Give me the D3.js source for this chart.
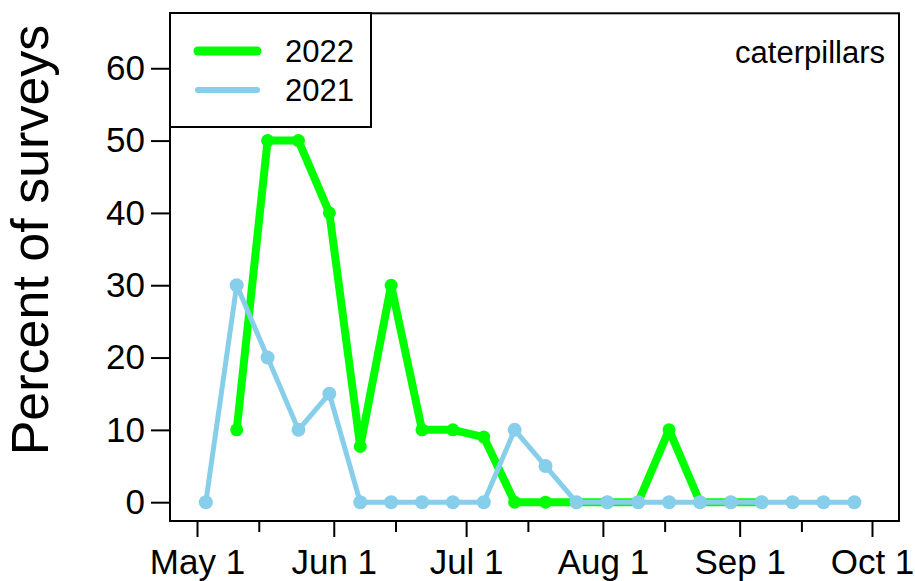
<!DOCTYPE html>
<html>
<head>
<meta charset="utf-8">
<script src="https://cdn.jsdelivr.net/npm/d3@7"></script>
<style>
  html, body { margin: 0; padding: 0; background: #fff; }
  svg { display: block; font-family: "Liberation Sans", Arial, Helvetica, sans-serif; }
</style>
</head>
<body>
<svg id="chart" width="915" height="581"></svg>
<script>
// ---- data ----
const dates2021 = ["2021-05-03","2021-05-10","2021-05-17","2021-05-24","2021-05-31","2021-06-07","2021-06-14","2021-06-21","2021-06-28","2021-07-05","2021-07-12","2021-07-19","2021-07-26","2021-08-02","2021-08-09","2021-08-16","2021-08-23","2021-08-30","2021-09-06","2021-09-13","2021-09-20","2021-09-27"];
const values2021 = [0, 30, 20, 10, 15, 0, 0, 0, 0, 0, 10, 5, 0, 0, 0, 0, 0, 0, 0, 0, 0, 0];
const dates2022 = ["2021-05-10","2021-05-17","2021-05-24","2021-05-31","2021-06-07","2021-06-14","2021-06-21","2021-06-28","2021-07-05","2021-07-12","2021-07-19","2021-07-26","2021-08-02","2021-08-09","2021-08-16","2021-08-23","2021-08-30","2021-09-06"];
const values2022 = [10, 50, 50, 40, 7.7, 30, 10, 10, 9, 0, 0, 0, 0, 0, 10, 0, 0, 0];
const majorTickDates = ["2021-05-01","2021-06-01","2021-07-01","2021-08-01","2021-09-01","2021-10-01"];
const majorTickLabels = ["May 1","Jun 1","Jul 1","Aug 1","Sep 1","Oct 1"];
const minorTickDates = ["2021-05-15","2021-06-15","2021-07-15","2021-08-15","2021-09-15"];
const yTicks = [0, 10, 20, 30, 40, 50, 60];
const seriesNames = ["2022", "2021"];
const seriesColors = ["#00ff00", "#87ceeb"];
const panelLabel = "caterpillars";
const yLabel = "Percent of surveys";

// ---- layout ----
const parse = d3.utcParse("%Y-%m-%d");
const box = {left: 170, right: 899, top: 13.3, bottom: 521};
const xMin = parse("2021-05-01"), xMax = parse("2021-10-01");
const span = xMax - xMin;
const x = d3.scaleUtc()
  .domain([new Date(+xMin - 0.04 * span), new Date(+xMax + 0.04 * span)])
  .range([box.left, box.right]);
const yLo = 0, yHi = 65, ySpan = yHi - yLo;
const y = d3.scaleLinear()
  .domain([yLo - 0.04 * ySpan, yHi + 0.04 * ySpan])
  .range([box.bottom, box.top]);

const svg = d3.select("#chart");

// bottom axis (major)
const gx = svg.append("g").attr("transform", `translate(0,${box.bottom})`)
  .call(d3.axisBottom(x).tickValues(majorTickDates.map(parse))
    .tickFormat((d, i) => majorTickLabels[i]).tickSize(16).tickSizeOuter(0));
gx.select(".domain").remove();
gx.selectAll(".tick line").attr("stroke", "#000").attr("stroke-width", 2);
gx.selectAll(".tick text").attr("font-size", 35).attr("fill", "#000")
  .attr("font-family", "Liberation Sans, Arial, sans-serif").attr("dy", 0).attr("y", 53);

// minor ticks
const gxm = svg.append("g").attr("transform", `translate(0,${box.bottom})`)
  .call(d3.axisBottom(x).tickValues(minorTickDates.map(parse)).tickFormat("").tickSize(11).tickSizeOuter(0));
gxm.select(".domain").remove();
gxm.selectAll(".tick line").attr("stroke", "#000").attr("stroke-width", 2);

// left axis
const gy = svg.append("g").attr("transform", `translate(${box.left},0)`)
  .call(d3.axisLeft(y).tickValues(yTicks).tickSize(19).tickSizeOuter(0));
gy.select(".domain").remove();
gy.selectAll(".tick line").attr("stroke", "#000").attr("stroke-width", 2);
gy.selectAll(".tick text").attr("font-size", 35).attr("fill", "#000")
  .attr("font-family", "Liberation Sans, Arial, sans-serif").attr("x", -25);

// y label
svg.append("text")
  .attr("transform", `translate(48,240) rotate(-90)`)
  .attr("text-anchor", "middle").attr("font-size", 52).attr("fill", "#000")
  .text(yLabel);

// plot frame
svg.append("rect").attr("x", box.left).attr("y", box.top)
  .attr("width", box.right - box.left).attr("height", box.bottom - box.top)
  .attr("fill", "none").attr("stroke", "#000").attr("stroke-width", 2);

// series
const series = [
  {name: seriesNames[0], color: seriesColors[0], width: 8, r: 6.5,
   pts: dates2022.map((d, i) => ({date: parse(d), v: values2022[i]}))},
  {name: seriesNames[1], color: seriesColors[1], width: 5, r: 7,
   pts: dates2021.map((d, i) => ({date: parse(d), v: values2021[i]}))}
];
const line = d3.line().x(d => x(d.date)).y(d => y(d.v));
series.forEach(s => {
  svg.append("path").datum(s.pts).attr("d", line)
    .attr("fill", "none").attr("stroke", s.color).attr("stroke-width", s.width)
    .attr("stroke-linejoin", "round");
  svg.append("g").selectAll("circle").data(s.pts).join("circle")
    .attr("cx", d => x(d.date)).attr("cy", d => y(d.v)).attr("r", s.r)
    .attr("fill", s.color);
});

// legend
const lg = svg.append("g");
lg.append("rect").attr("x", 170).attr("y", 13).attr("width", 201).attr("height", 114)
  .attr("fill", "#fff").attr("stroke", "#000").attr("stroke-width", 2);
series.forEach((s, i) => {
  const ly = 51 + i * 39;
  lg.append("line").attr("x1", 198).attr("x2", 257).attr("y1", ly).attr("y2", ly)
    .attr("stroke", s.color).attr("stroke-width", i === 0 ? 9 : 6).attr("stroke-linecap", "round");
  lg.append("text").attr("x", 285).attr("y", ly).attr("dy", "0.35em")
    .attr("font-size", 31).attr("fill", "#000").text(s.name);
});

// panel label
svg.append("text").attr("x", 885).attr("y", 63).attr("text-anchor", "end")
  .attr("font-size", 31).attr("fill", "#000").text(panelLabel);
</script>
</body>
</html>
